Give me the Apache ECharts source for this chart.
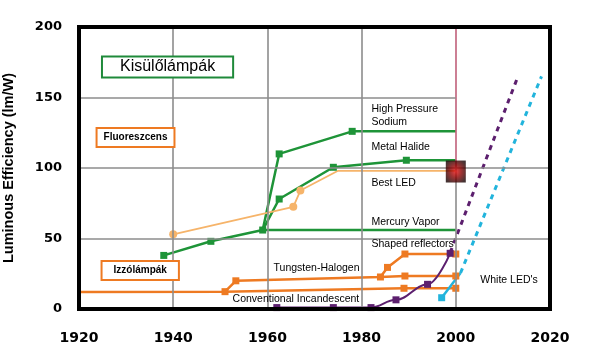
<!DOCTYPE html>
<html><head><meta charset="utf-8">
<script src="https://cdn.jsdelivr.net/npm/echarts@6/dist/echarts.min.js"></script>
<style>html,body{margin:0;padding:0;background:#fff}#c{width:600px;height:342px}</style>
</head><body><div id="c"></div>
<script>
// ---- data ----
const xTicks = [1920, 1940, 1960, 1980, 2000, 2020];
const yTicks = [0, 50, 100, 150, 200];
const mercuryVapor = [[1938, 38], [1948, 48], [1959, 56], [2000, 56]];
const highPressureSodium = [[1959, 56], [1962.5, 110], [1978, 126], [2000, 126]];
const metalHalide = [[1959, 56], [1962.5, 78], [1974, 100.5], [1989.5, 105.5], [2000, 105.5]];
const fluorescent = [[1940, 53], [1965.5, 72.5], [1967, 84], [1975, 98], [2000, 98]];
const conventional = [[1920, 12], [1951, 12.3], [1989, 14.7], [2000, 14.7]];
const tungstenHalogen = [[1951, 12.3], [1953.3, 20], [1984, 22.7], [1989.2, 23.4], [2000, 23.4]];
const shapedReflectors = [[1984, 22.7], [1985.5, 29.5], [1989.2, 39], [2000, 39]];
const redLed = [[1962, 1], [1974, 1], [1982, 1], [1987.3, 6.5], [1994, 17.5], [1998.8, 39.5]];
const redLedTrend = [[1998.8, 40], [2013.2, 165]];
const whiteLed = [[1997, 8], [2001, 25.5]];
const whiteLedTrend = [[2001, 25.5], [2018.2, 165]];
const bestLed = [[2000, 97.5]];
const annotationText = ['High Pressure\nSodium', 'Metal Halide', 'Best LED', 'Mercury Vapor',
  'Shaped reflectors', 'Tungsten-Halogen', 'Conventional Incandescent', "White LED's"];
const annotationPos = [[1982, 137.5], [1982, 115], [1982, 89.4], [1982, 61.7],
  [1982, 46], [1961.2, 29], [1952.5, 7.1], [2005.1, 20.6]];
const boxText = ['Kisülőlámpák', 'Fluoreszcens', 'Izzólámpák'];
const boxPos = [[1938.8, 171.6], [1932, 121.6], [1933, 27.3]];

// ---- styles ----
const GREEN = '#1e9438', ORANGE = '#ee7a22', LORANGE = '#f6b46a', PURPLE = '#5c1f6e', CYAN = '#22b4dc';
const GRAY = '#8c8c8c', PINK = '#c0607a';

function line(name, data, color, width, marked, symbol, size, extra) {
  return Object.assign({
    name, type: 'line', data, symbol: symbol || 'rect',
    symbolSize: (v, p) => marked.includes(p.dataIndex) ? size : 0,
    showSymbol: true, showAllSymbol: true,
    lineStyle: { color, width }, itemStyle: { color },
    z: 3, animation: false, silent: true
  }, extra || {});
}

const gl = (a, b, color) => [{ coord: a, lineStyle: { color, width: 1.6, type: 'solid' } }, { coord: b }];
const gridMarks = [
  gl([xTicks[1], 0], [xTicks[1], 200], GRAY),
  gl([xTicks[2], 0], [xTicks[2], 200], GRAY),
  gl([xTicks[3], 0], [xTicks[3], 200], GRAY),
  gl([xTicks[4], 0], [xTicks[4], 100], GRAY),
  gl([xTicks[4], 100], [xTicks[4], 200], PINK),
  gl([1920, yTicks[1]], [2020, yTicks[1]], GRAY),
  gl([1920, yTicks[2]], [2020, yTicks[2]], GRAY),
  gl([1920, yTicks[3]], [2000, yTicks[3]], GRAY)
];

const boxStyles = [
  { borderColor: '#1f8a3a', fontSize: 16, fontWeight: 'normal', padding: [2, 17, 1, 17] },
  { borderColor: ORANGE, fontSize: 10, fontWeight: 'bold', padding: [4, 6, 3, 6] },
  { borderColor: ORANGE, fontSize: 10, fontWeight: 'bold', padding: [4, 11, 3, 11] }
];

const chart = echarts.init(document.getElementById('c'), null, { renderer: 'canvas' });
chart.setOption({
  animation: false,
  grid: { left: 79, right: 50, top: 27, bottom: 33, show: true, borderColor: '#000', borderWidth: 4,
    backgroundColor: 'transparent', z: 10, containLabel: false, outerBoundsMode: 'none' },
  xAxis: {
    type: 'value', min: 1920, max: 2020, interval: 20,
    axisLine: { show: false }, axisTick: { show: false }, splitLine: { show: false },
    axisLabel: { fontFamily: 'DejaVu Sans', fontWeight: 'bold', fontSize: 14, color: '#000', margin: 22,
      formatter: v => String(v) }
  },
  yAxis: {
    type: 'value', min: 0, max: 200, interval: 50,
    axisLine: { show: false }, axisTick: { show: false }, splitLine: { show: false },
    axisLabel: { fontFamily: 'DejaVu Sans', fontWeight: 'bold', fontSize: 13, color: '#000', margin: 17,
      formatter: v => String(v) },
    name: 'Luminous Efficiency (lm/W)', nameLocation: 'middle', nameRotate: 90, nameGap: 63,
    nameTextStyle: { fontFamily: 'Liberation Sans', fontWeight: 'bold', fontSize: 14.5, color: '#000' }
  },
  series: [
    { type: 'line', data: [], z: 1, silent: true,
      markLine: { symbol: ['none', 'none'], silent: true, label: { show: false }, animation: false, data: gridMarks } },
    line('Mercury Vapor', mercuryVapor, GREEN, 2.5, [0, 1, 2], 'rect', 7),
    line('High Pressure Sodium', highPressureSodium, GREEN, 2.5, [1, 2], 'rect', 7),
    line('Metal Halide', metalHalide, GREEN, 2.5, [1, 2, 3], 'rect', 7),
    line('Fluorescent', fluorescent, LORANGE, 1.8, [0, 1, 2], 'circle', 8),
    line('Conventional Incandescent', conventional, ORANGE, 2.5, [2, 3], 'rect', 7),
    line('Tungsten-Halogen', tungstenHalogen, ORANGE, 2.5, [0, 1, 2, 3, 4], 'rect', 7),
    line('Shaped reflectors', shapedReflectors, ORANGE, 2.5, [1, 2, 3], 'rect', 7),
    line('Red LED', redLed, PURPLE, 2, [0, 1, 2, 3, 4, 5], 'rect', 7, { smooth: 0.4, smoothMonotone: 'x' }),
    line('Red LED trend', redLedTrend, PURPLE, 3, [], 'rect', 0, { lineStyle: { color: PURPLE, width: 3, type: [5, 5] } }),
    line('White LED', whiteLed, CYAN, 2.5, [0], 'rect', 7),
    line('White LED trend', whiteLedTrend, CYAN, 3, [], 'rect', 0, { lineStyle: { color: CYAN, width: 3, type: [5, 5] } }),
    { type: 'scatter', data: bestLed, symbol: 'rect', symbolSize: [20, 22], z: 5, silent: true,
      itemStyle: { color: { type: 'radial', x: 0.5, y: 0.5, r: 0.6,
        colorStops: [{ offset: 0, color: '#e81010' }, { offset: 0.45, color: '#8a0000' }, { offset: 1, color: '#150000' }] } } },
    { type: 'scatter', z: 6, silent: true, symbolSize: 1, itemStyle: { color: 'rgba(255,255,255,0)' },
      data: annotationPos.map((p, i) => ({ value: p, label: { formatter: annotationText[i] } })),
      label: { show: true, position: 'right', distance: 0, fontFamily: 'Liberation Sans', fontSize: 10.5,
        color: '#000', lineHeight: 13, opacity: 1 } },
    { type: 'scatter', z: 6, silent: true, symbolSize: 1, itemStyle: { color: 'rgba(255,255,255,0)' },
      data: boxPos.map((p, i) => ({ value: p, label: Object.assign({ formatter: boxText[i] }, boxStyles[i]) })),
      label: { show: true, position: 'inside', fontFamily: 'Liberation Sans', color: '#000', opacity: 1,
        textBorderWidth: 0, backgroundColor: '#fff', borderWidth: 2 } }
  ]
});
</script></body></html>
